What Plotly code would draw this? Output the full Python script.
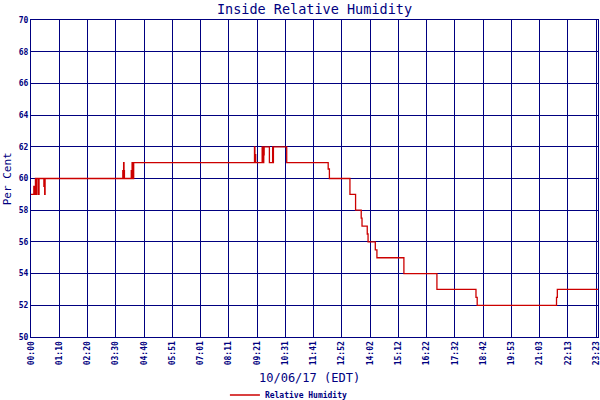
"""Inside relative humidity, one day, step chart."""

import plotly.graph_objects as go

# minutes after midnight when the reading changed, and the reading from then on
minutes = [0, 7, 8, 11, 14, 15, 19, 20, 32, 33, 34, 35,
           228, 229, 230, 231, 232, 249, 250, 251, 252, 253, 254, 255,
           555, 556, 557, 558, 574, 575, 576, 577, 578, 579,
           592, 600, 601, 602, 635, 738, 741,
           792, 806, 820, 822, 835, 837, 855, 859,
           926, 1008, 1105, 1108, 1305, 1307, 1408]
humidity = [59, 59.5, 59, 60, 59, 60, 59, 60, 59.5, 60, 59, 60,
            60.5, 60, 61, 60.5, 60, 60.5, 60, 61, 60, 61, 60, 61,
            62, 61, 61.5, 61, 62, 61, 62, 61, 61.5, 62,
            61, 62, 61, 62, 61, 60.6, 60,
            59, 58, 57.5, 57, 56.5, 56, 55.5, 55,
            54, 53, 52.5, 52, 52.5, 53, 53]

tick_step = 70.18
tick_labels = ["00:00", "01:10", "02:20", "03:30", "04:40", "05:51", "07:01",
               "08:11", "09:21", "10:31", "11:41", "12:52", "14:02", "15:12",
               "16:22", "17:32", "18:42", "19:53", "21:03", "22:13", "23:23"]
tick_minutes = [i * tick_step for i in range(len(tick_labels))]

NAVY = "#000080"
RED = "#cc0000"
MONO = "DejaVu Sans Mono"

fig = go.Figure()

fig.add_trace(go.Scatter(
    x=minutes,
    y=humidity,
    name="Relative Humidity",
    mode="lines",
    line=dict(color=RED, width=1.3, shape="hv"),
))

fig.update_layout(
    width=600,
    height=400,
    margin=dict(l=31, r=2, t=20, b=63, autoexpand=False),
    paper_bgcolor="white",
    plot_bgcolor="white",
    title=dict(
        text="Inside Relative Humidity",
        x=0.5, xref="paper", xanchor="center",
        y=0.977, yanchor="middle",
        font=dict(family=MONO, size=13.5, color=NAVY),
    ),
    showlegend=True,
    legend=dict(
        orientation="h",
        x=0.342, xanchor="left",
        y=-0.183, yanchor="middle",
        font=dict(family=MONO, size=8, color=NAVY, weight="bold"),
        bgcolor="rgba(0,0,0,0)",
    ),
    annotations=[
        dict(text="Per Cent", xref="paper", yref="paper", x=-0.041, y=0.5,
             xanchor="center", yanchor="middle",
             textangle=-90, showarrow=False,
             font=dict(family=MONO, size=11, color=NAVY)),
        dict(text="10/06/17 (EDT)", xref="paper", yref="paper", x=0.492, y=-0.129,
             xanchor="center", yanchor="middle",
             showarrow=False,
             font=dict(family=MONO, size=12, color=NAVY)),
    ],
)

fig.update_xaxes(
    range=[0, 1408],
    tickvals=tick_minutes,
    ticktext=tick_labels,
    tickangle=-90,
    ticklabeloverflow="allow",
    tickfont=dict(family=MONO, size=8, color=NAVY, weight="bold"),
    showgrid=True, gridcolor=NAVY, gridwidth=1,
    showline=True, linecolor=NAVY, linewidth=1, mirror=True,
    zeroline=False,
    ticks="",
)

fig.update_yaxes(
    range=[50, 70],
    dtick=2,
    tickfont=dict(family=MONO, size=8, color=NAVY, weight="bold"),
    showgrid=True, gridcolor=NAVY, gridwidth=1,
    showline=True, linecolor=NAVY, linewidth=1, mirror=True,
    zeroline=False,
    ticks="",
)

# the page body has a default 8px margin; drop it so the 600x400 figure fills the window
fig.write_html(
    "out.html",
    config={"displayModeBar": False},
    post_script="document.body.style.margin = '0';",
)
